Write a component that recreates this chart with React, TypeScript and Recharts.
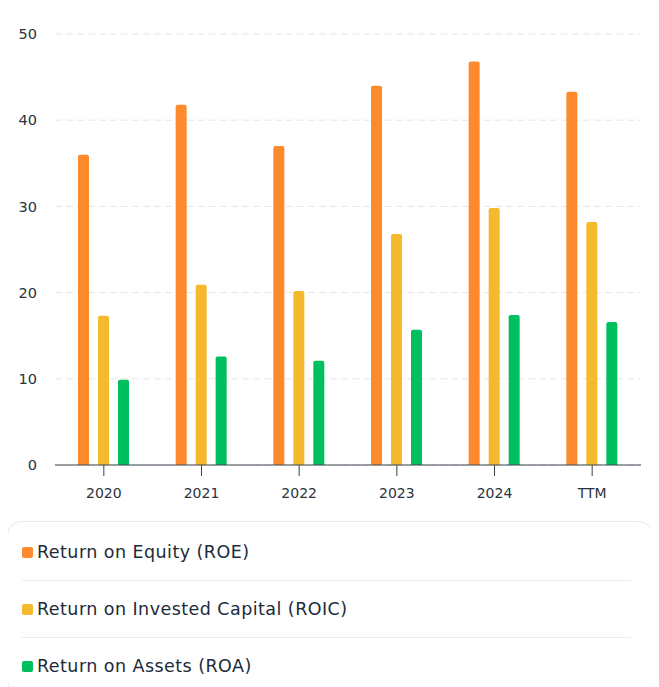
import React from 'react';
import { BarChart, Bar, XAxis, YAxis, CartesianGrid } from 'recharts';

// values (percent)
const periods = ['2020', '2021', '2022', '2023', '2024', 'TTM'];
const roe = [36.0, 41.8, 37.0, 44.0, 46.8, 43.3];
const roic = [17.3, 20.9, 20.2, 26.8, 29.8, 28.2];
const roa = [9.9, 12.6, 12.1, 15.7, 17.4, 16.6];
const yTicks = [0, 10, 20, 30, 40, 50];

const seriesList = [
  { key: 'roe', name: 'Return on Equity (ROE)', color: '#FD8B2E' },
  { key: 'roic', name: 'Return on Invested Capital (ROIC)', color: '#F4B92C' },
  { key: 'roa', name: 'Return on Assets (ROA)', color: '#00BF5E' },
];

const data = periods.map((name, i) => ({
  name,
  roe: roe[i],
  roic: roic[i],
  roa: roa[i],
}));

const FONT = '"DejaVu Sans", "Noto Sans", sans-serif';

const LegendBox = () => (
  <div
    style={{
      marginTop: 8,
      marginLeft: -1,
      width: 646,
      border: '1px solid #e8e8e8',
      borderRadius: 14,
      paddingTop: 2,
      paddingLeft: 14,
      paddingRight: 21,
      boxSizing: 'border-box',
      fontFamily: FONT,
    }}
  >
    {seriesList.map((s, i) => (
      <div
        key={s.key}
        style={{
          height: 56,
          display: 'flex',
          alignItems: 'center',
          borderTop: i === 0 ? 'none' : '1px solid #ececec',
          fontSize: 17.5,
          letterSpacing: 0.45,
          color: '#1c2b3a',
        }}
      >
        <span
          style={{
            display: 'inline-block',
            width: 11,
            height: 11,
            borderRadius: 2,
            background: s.color,
            marginRight: 4,
          }}
        />
        {s.name}
      </div>
    ))}
  </div>
);

export default function App() {
  return (
    <div style={{ fontFamily: FONT }}>
      <BarChart
        width={645}
        height={505}
        data={data}
        margin={{ top: 26, right: 12, left: 0, bottom: 18 }}
        barSize={11}
        barGap={9}
      >
        <CartesianGrid vertical={false} stroke="#e6e6e6" strokeDasharray="7 4" />
        <XAxis
          dataKey="name"
          height={30}
          axisLine={{ stroke: '#3a4450' }}
          tickLine={{ stroke: '#3a4450' }}
          tickSize={11}
          tickMargin={12}
          tick={{ fontSize: 14, fill: '#2b333b' }}
        />
        <YAxis
          width={47}
          domain={[0, 50]}
          ticks={yTicks}
          axisLine={false}
          tickLine={false}
          tickSize={0}
          tickMargin={18}
          tick={{ fontSize: 14.5, fill: '#2b333b' }}
        />
        {seriesList.map((s) => (
          <Bar
            key={s.key}
            dataKey={s.key}
            name={s.name}
            fill={s.color}
            radius={[2, 2, 0, 0]}
            isAnimationActive={false}
          />
        ))}
      </BarChart>
      <LegendBox />
    </div>
  );
}
